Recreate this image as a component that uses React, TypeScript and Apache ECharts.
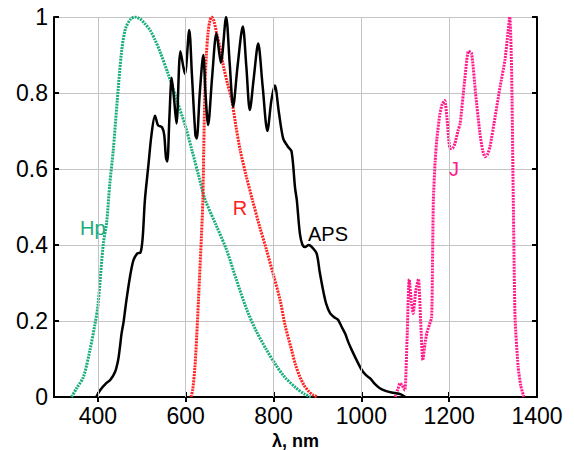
import React, { useEffect, useRef } from "react";
import * as echarts from "echarts";

const xTicks = [400, 600, 800, 1000, 1200, 1400];
const xGrid = [400, 600, 800, 1000, 1200];
const yTicks = [0, 0.2, 0.4, 0.6, 0.8, 1];

const hpData: [number, number][] = [
  [340, 0], [352, 0.024], [367, 0.053], [382, 0.124], [393, 0.19], [400, 0.24], [412, 0.4],
  [420, 0.46], [427, 0.56], [435, 0.65], [444, 0.78], [454, 0.91], [463, 0.97], [475, 0.995],
  [485, 1.0], [496, 0.995], [505, 0.985], [519, 0.965], [530, 0.94], [541, 0.91], [560, 0.85],
  [580, 0.78], [600, 0.71], [614, 0.65], [630, 0.58], [644, 0.52], [670, 0.45], [693, 0.387],
  [715, 0.31], [739, 0.23], [760, 0.175], [784, 0.124], [805, 0.085], [825, 0.053], [850, 0.025],
  [870, 0.008], [885, 0],
];

const rData: [number, number][] = [
  [612, 0], [616, 0.02], [621, 0.08], [625, 0.16], [629, 0.255], [636, 0.43], [639, 0.518],
  [641, 0.65], [644, 0.82], [647, 0.9], [651, 0.96], [655, 0.99], [659, 1.0], [664, 0.99],
  [670, 0.96], [678, 0.92], [686, 0.87], [695, 0.825], [705, 0.78], [714, 0.715], [724, 0.65],
  [737, 0.585], [752, 0.518], [768, 0.45], [784, 0.387], [800, 0.32], [815, 0.255], [826, 0.19],
  [841, 0.124], [850, 0.085], [860, 0.053], [870, 0.03], [880, 0.015], [890, 0.005], [900, 0],
];

const apsData: [number, number][] = [
  [396, 0], [405, 0.018], [418, 0.035], [428, 0.045], [439, 0.066], [446, 0.097], [450, 0.13],
  [454, 0.168], [458, 0.194], [462, 0.229], [465, 0.255], [473, 0.316], [481, 0.36], [490, 0.378],
  [497, 0.38], [502, 0.42], [507, 0.518], [515, 0.61], [522, 0.69], [530, 0.74], [537, 0.715],
  [546, 0.71], [551, 0.69], [555, 0.63], [558, 0.62], [563, 0.74], [568, 0.84], [573, 0.79],
  [579, 0.72], [588, 0.91], [598, 0.85], [608, 0.966], [614, 0.85], [622, 0.69], [625, 0.68],
  [632, 0.8], [640, 0.9], [645, 0.8], [651, 0.716], [660, 0.84], [670, 0.957], [680, 0.88],
  [692, 1.0], [700, 0.88], [708, 0.764], [718, 0.87], [730, 0.975], [738, 0.87], [746, 0.755],
  [755, 0.84], [765, 0.93], [775, 0.82], [786, 0.7], [795, 0.78], [803, 0.82], [812, 0.75],
  [822, 0.68], [832, 0.66], [841, 0.646], [849, 0.55], [853, 0.518], [860, 0.43], [866, 0.4],
  [872, 0.395], [880, 0.4], [887, 0.395], [898, 0.378], [905, 0.33], [913, 0.28], [920, 0.245],
  [929, 0.22], [938, 0.21], [947, 0.203], [955, 0.185], [963, 0.167], [970, 0.145], [978, 0.124],
  [990, 0.095], [1001, 0.071], [1010, 0.058], [1020, 0.049], [1030, 0.035], [1042, 0.023],
  [1055, 0.016], [1073, 0.011], [1090, 0.007], [1100, 0],
];

const jData: [number, number][] = [
  [1077, 0], [1083, 0.02], [1088, 0.036], [1093, 0.03], [1099, 0.018], [1104, 0.15], [1109, 0.31],
  [1114, 0.25], [1118, 0.22], [1124, 0.28], [1130, 0.31], [1135, 0.2], [1140, 0.097], [1145, 0.14],
  [1149, 0.168], [1155, 0.19], [1160, 0.21], [1162, 0.35], [1164, 0.518], [1168, 0.62],
  [1172, 0.68], [1179, 0.746], [1184, 0.77], [1190, 0.78], [1196, 0.72], [1202, 0.654],
  [1208, 0.655], [1213, 0.667], [1220, 0.7], [1225, 0.72], [1235, 0.83], [1244, 0.91],
  [1251, 0.905], [1260, 0.8], [1270, 0.694], [1276, 0.65], [1282, 0.632], [1288, 0.64],
  [1293, 0.659], [1305, 0.74], [1316, 0.817], [1327, 0.887], [1334, 0.96], [1338, 1.0],
  [1342, 0.87], [1346, 0.518], [1350, 0.21], [1357, 0.08], [1363, 0.03], [1370, 0],
];

const labels = [
  { text: "Hp", color: "#17ad7c", x: 80, y: 228, align: "left" },
  { text: "R", color: "#ff2020", x: 240, y: 208, align: "center" },
  { text: "APS", color: "#000000", x: 308, y: 234, align: "left" },
  { text: "J", color: "#ff1a8c", x: 454, y: 169, align: "center" },
];

const FONT = "'Liberation Sans', Arial, Helvetica, sans-serif";

export default function App() {
  const ref = useRef<HTMLDivElement>(null);
  useEffect(() => {
    document.body.style.margin = "0";
    const chart = echarts.init(ref.current!, null, { renderer: "svg" });
    const gridColor = "#c4c4c4";
    const dotted = [2, 1];
    const option: any = {
      animation: false,
      backgroundColor: "#ffffff",
      textStyle: { fontFamily: FONT },
      grid: { left: 54, right: 37, top: 17, bottom: 53, containLabel: false, outerBoundsMode: "none" },
      xAxis: [
        {
          type: "value",
          min: 300,
          max: 1400,
          interval: 100,
          position: "bottom",
          name: "λ, nm",
          nameLocation: "middle",
          nameGap: 29,
          nameTextStyle: { fontFamily: FONT, fontSize: 18, fontWeight: "bold", color: "#000", lineHeight: 18 },
          axisLine: { show: true, lineStyle: { color: "#000", width: 2 } },
          axisTick: { show: true, inside: true, length: 5, customValues: xGrid, lineStyle: { color: "#000", width: 2 } },
          axisLabel: {
            customValues: xTicks,
            fontFamily: FONT,
            fontSize: 23,
            color: "#000",
            margin: 7,
            formatter: (v: number) => String(v),
          },
          splitLine: { show: false },
        },
        {
          type: "value",
          min: 300,
          max: 1400,
          interval: 100,
          position: "top",
          axisLine: { show: true, lineStyle: { color: "#000", width: 2 } },
          axisTick: { show: true, inside: true, length: 5, customValues: xGrid, lineStyle: { color: "#000", width: 2 } },
          axisLabel: { show: false },
          splitLine: { show: false },
        },
      ],
      yAxis: [
        {
          type: "value",
          min: 0,
          max: 1,
          interval: 0.2,
          position: "left",
          axisLine: { show: true, lineStyle: { color: "#000", width: 2 } },
          axisTick: { show: true, inside: true, length: 5, lineStyle: { color: "#000", width: 2 } },
          axisLabel: {
            fontFamily: FONT,
            fontSize: 23,
            color: "#000",
            margin: 6,
            formatter: (v: number) => String(parseFloat(v.toFixed(1))),
          },
          splitLine: { show: true, lineStyle: { color: gridColor, width: 1 } },
        },
        {
          type: "value",
          min: 0,
          max: 1,
          interval: 0.2,
          position: "right",
          axisLine: { show: true, lineStyle: { color: "#000", width: 2 } },
          axisTick: { show: true, inside: true, length: 5, lineStyle: { color: "#000", width: 2 } },
          axisLabel: { show: false },
          splitLine: { show: false },
        },
      ],
      series: [
        {
          type: "line",
          data: [],
          z: 1,
          silent: true,
          markLine: {
            silent: true,
            symbol: "none",
            label: { show: false },
            lineStyle: { color: gridColor, width: 1, type: "solid" },
            data: xGrid.map((v) => ({ xAxis: v })),
          },
        },
        {
          name: "Hp",
          type: "line",
          data: hpData,
          showSymbol: false,
          smooth: 0.3,
          z: 3,
          lineStyle: { color: "#17ad7c", width: 3, type: dotted },
        },
        {
          name: "R",
          type: "line",
          data: rData,
          showSymbol: false,
          smooth: 0.3,
          z: 3,
          lineStyle: { color: "#ff2020", width: 3, type: dotted },
        },
        {
          name: "APS",
          type: "line",
          data: apsData,
          showSymbol: false,
          smooth: 0.3,
          z: 4,
          lineStyle: { color: "#000000", width: 2.5, type: "solid" },
        },
        {
          name: "J",
          type: "line",
          data: jData,
          showSymbol: false,
          smooth: 0.2,
          z: 3,
          lineStyle: { color: "#ff1a8c", width: 3, type: dotted },
        },
      ],
      graphic: labels.map((l) => ({
        type: "text",
        x: l.x,
        y: l.y,
        z: 10,
        style: {
          text: l.text,
          fill: l.color,
          font: `20px ${FONT}`,
          textAlign: l.align,
          textVerticalAlign: "middle",
        },
      })),
    };
    chart.setOption(option);
    return () => chart.dispose();
  }, []);
  return (
    <div
      ref={ref}
      style={{ position: "absolute", left: 0, top: 0, width: 574, height: 450 }}
    />
  );
}
